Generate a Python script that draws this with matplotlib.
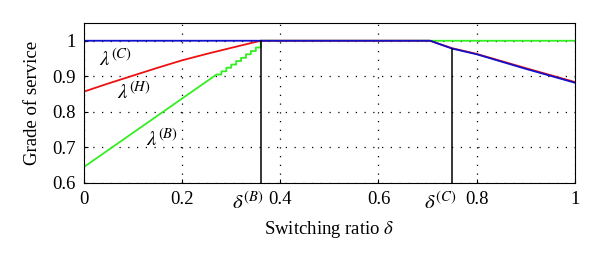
import matplotlib
matplotlib.use('Agg')
from matplotlib import pyplot as plt

x_c = [0, 0.36, 0.705, 0.75, 0.8, 0.9, 1.0]
y_c = [1.0, 1.0, 1.0, 0.978, 0.962, 0.921, 0.882]

x_h = [0, 0.05, 0.1, 0.15, 0.2, 0.25, 0.3, 0.36, 0.705, 0.75, 0.8, 0.9, 1.0]
y_h = [0.857, 0.880, 0.902, 0.924, 0.945, 0.963, 0.980, 1.0, 1.0, 0.979, 0.963, 0.923, 0.884]

# green climbs straight, then in small stairs up to delta_b
x_b = [0, 0.27, 0.28, 0.28, 0.29, 0.29, 0.30, 0.30, 0.31, 0.31, 0.32, 0.32,
       0.33, 0.33, 0.34, 0.34, 0.35, 0.35, 0.36, 0.36, 1.0]
y_b = [0.645, 0.905, 0.905, 0.914, 0.914, 0.924, 0.924, 0.933, 0.933, 0.943, 0.943, 0.952,
       0.952, 0.962, 0.962, 0.971, 0.971, 0.981, 0.981, 1.0, 1.0]

delta_b = 0.36
delta_c = 0.75
top_b = 1.0
top_c = 0.978

plt.rcParams['font.family'] = ['Liberation Serif', 'DejaVu Serif']
plt.rcParams['mathtext.fontset'] = 'stix'

fig = plt.figure(figsize=(6, 2.61), dpi=100)
ax = fig.add_axes([0.14, 0.299, 0.818, 0.613])

ax.plot(x_b, y_b, color='#33ee22', lw=1.3)
ax.plot(x_h, y_h, color='#ee1111', lw=1.3)
ax.plot(x_c, y_c, color='#1111cc', lw=1.3)

ax.plot([delta_b, delta_b], [0.6, top_b], color='black', lw=1.1)
ax.plot([delta_c, delta_c], [0.6, top_c], color='black', lw=1.1)

ax.set_xlim(0, 1)
ax.set_ylim(0.6, 1.05)
ax.set_xticks([0, 0.2, 0.4, 0.6, 0.8, 1])
ax.set_xticklabels(['0', '0.2', '0.4', '0.6', '0.8', '1'])
ax.set_yticks([0.6, 0.7, 0.8, 0.9, 1])
ax.set_yticklabels(['0.6', '0.7', '0.8', '0.9', '1'])
ax.tick_params(labelsize=13.5, direction='in', length=3, pad=6)
ax.grid(True, linestyle=(0, (1, 6)), color='black', lw=0.9)

ax.text(0.03, 0.928, r'$\lambda^{(C)}$', fontsize=15)
ax.text(0.068, 0.835, r'$\lambda^{(H)}$', fontsize=15)
ax.text(0.127, 0.705, r'$\lambda^{(B)}$', fontsize=15)
ax.text(0.333, 0.575, r'$\delta^{(B)}$', fontsize=15, ha='center', va='top')
ax.text(0.725, 0.575, r'$\delta^{(C)}$', fontsize=15, ha='center', va='top')

ax.set_xlabel(r'Switching ratio $\delta$', fontsize=13.5, labelpad=8)
ax.set_ylabel('Grade of service', fontsize=13.5, labelpad=8)

fig.savefig('out.png', dpi=100)
